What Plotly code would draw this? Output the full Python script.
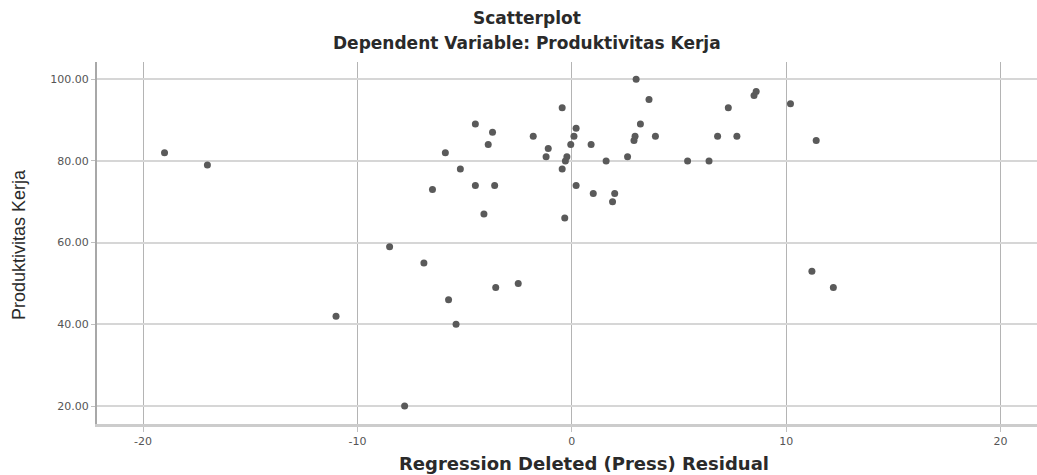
import plotly.graph_objects as go

residual = [-19.0, -17.0, -11.0, -8.5, -7.8, -6.9, -6.5, -5.9, -5.75, -5.4, -5.2,
            -4.5, -4.5, -4.1, -3.9, -3.7, -3.55, -3.6, -2.5, -1.8, -1.2, -1.1,
            -0.45, -0.45, -0.33, -0.3, -0.23, -0.05, 0.1, 0.2, 0.2, 0.9, 1.0,
            1.6, 1.9, 2.0, 2.6, 2.9, 2.95, 3.0, 3.2, 3.6, 3.9, 5.4, 6.4, 6.8,
            7.3, 7.7, 8.5, 8.6, 10.2, 11.4, 11.2, 12.2]
produktivitas = [82, 79, 42, 59, 20, 55, 73, 82, 46, 40, 78,
                 89, 74, 67, 84, 87, 49, 74, 50, 86, 81, 83,
                 93, 78, 66, 80, 81, 84, 86, 88, 74, 84, 72,
                 80, 70, 72, 81, 85, 86, 100, 89, 95, 86, 80, 80, 86,
                 93, 86, 96, 97, 94, 85, 53, 49]

x_ticks = [-20, -10, 0, 10, 20]
x_tick_text = ["-20", "-10", "0", "10", "20"]
y_ticks = [20, 40, 60, 80, 100]
y_tick_text = ["20.00", "40.00", "60.00", "80.00", "100.00"]

# plot area spans page x 97..1037, y 62..424 (body margin removed below)
PL, PR, PT, PB = 97, 1037, 62, 424
PW, PH = PR - PL, PB - PT

fig = go.Figure()
fig.add_trace(go.Scatter(
    x=residual, y=produktivitas, mode="markers",
    marker=dict(size=7, color="#5a5a5a", line=dict(width=0)),
    showlegend=False,
))

fig.update_layout(
    width=1037, height=475,
    margin=dict(l=PL, r=1037 - PR, t=PT, b=475 - PB),
    paper_bgcolor="white", plot_bgcolor="white",
    font=dict(family="DejaVu Sans, sans-serif", color="#222"),
)

def px(xp):
    return (xp - PL) / PW

def py(yp):
    return (PB - yp) / PH

fig.add_annotation(text="<b>Scatterplot</b>", xref="paper", yref="paper",
                   x=px(527), y=py(18), showarrow=False,
                   font=dict(family="DejaVu Sans", size=17, color="#2a2a2a"),
                   xanchor="center", yanchor="middle")
fig.add_annotation(text="<b>Dependent Variable: Produktivitas Kerja</b>", xref="paper", yref="paper",
                   x=px(527), y=py(43), showarrow=False,
                   font=dict(family="DejaVu Sans", size=17, color="#2a2a2a"),
                   xanchor="center", yanchor="middle")
fig.add_annotation(text="<b>Regression Deleted (Press) Residual</b>", xref="paper", yref="paper",
                   x=px(584), y=py(463), showarrow=False,
                   font=dict(family="DejaVu Sans", size=18, color="#2a2a2a"),
                   xanchor="center", yanchor="middle")
fig.add_annotation(text="Produktivitas Kerja", xref="paper", yref="paper",
                   x=px(19), y=py(245), showarrow=False, textangle=-90,
                   font=dict(family="Liberation Sans, Arial", size=18, color="#2a2a2a"),
                   xanchor="center", yanchor="middle")

fig.update_xaxes(
    range=[-22.15, 21.7], tickvals=x_ticks, ticktext=x_tick_text,
    showgrid=True, gridcolor="#b4b4b4", gridwidth=1,
    showline=True, linecolor="#cccccc", linewidth=3,
    zeroline=False, ticks="outside", ticklen=5, tickcolor="#c0c0c0", tickwidth=1,
    tickfont=dict(family="DejaVu Sans", size=11, color="#555"),
)
fig.update_yaxes(
    range=[15.6, 104.2], tickvals=y_ticks, ticktext=y_tick_text,
    showgrid=True, gridcolor="#d6d6d6", gridwidth=2,
    showline=True, linecolor="#a8a8a8", linewidth=2,
    zeroline=False, ticks="outside", ticklen=4, tickcolor="#c0c0c0", tickwidth=1,
    tickfont=dict(family="DejaVu Sans", size=11, color="#555"),
)

fig.write_html(
    "out.html",
    config={"displayModeBar": False},
    post_script="document.body.style.margin='0';document.body.style.overflow='hidden';"
                "document.documentElement.style.overflow='hidden';",
)
